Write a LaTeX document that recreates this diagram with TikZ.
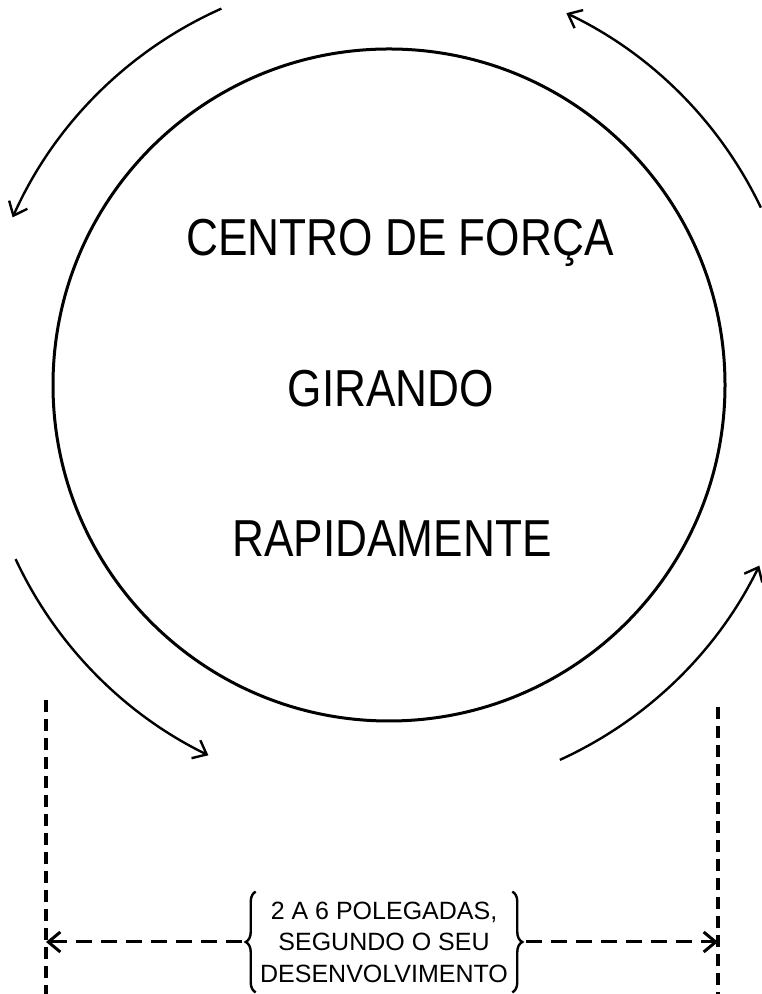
\documentclass[tikz,border=0pt]{standalone}
\usepackage{fontspec}
\setmainfont{Liberation Sans}
\usetikzlibrary{arrows.meta, decorations.pathreplacing}

\begin{document}
\begin{tikzpicture}[x=0.5pt, y=0.5pt,
  giro/.style={-{Straight Barb[length=6pt,width=10pt]}, line width=1.2pt},
  letreiro/.style={font=\fontsize{26}{30}\selectfont, xscale=0.85, anchor=base},
  tracejado/.style={line width=1.8pt, dash pattern=on 6pt off 3.5pt},
  cota/.style={-{Straight Barb[length=6pt,width=10pt]}, line width=1.5pt, dash pattern=on 8pt off 4.5pt},
  chave/.style={decorate, decoration={brace, amplitude=5pt}, line width=1.2pt}]

\useasboundingbox (0,0) rectangle (761,994);

% Centro
\coordinate (O) at (389,609);

% Circulo
\draw[line width=1.5pt] (O) circle[radius=336];

% Setas de rotacao
\draw[giro] (O) ++(114:412) arc[start angle=114, end angle=156, radius=412];
\draw[giro] (O) ++(25.5:412) arc[start angle=25.5, end angle=64.5, radius=412];
\draw[giro] (O) ++(205:412) arc[start angle=205, end angle=244, radius=412];
\draw[giro] (O) ++(-65.5:412) arc[start angle=-65.5, end angle=-26, radius=412];

% Texto do centro
\node[letreiro] (centro) at (400,738) {CENTRO DE FORÇA};
\node[letreiro] (girando) at (391,587) {GIRANDO};
\node[letreiro] (rapido) at (392,437) {RAPIDAMENTE};

% Linhas de cota
\coordinate (esqA) at (46,294);
\coordinate (esqB) at (46,0);
\coordinate (dirA) at (718,287);
\coordinate (dirB) at (718,0);
\draw[tracejado] (esqA) -- (esqB);
\draw[tracejado] (dirA) -- (dirB);

% Medida
\node[font=\fontsize{12.5}{15.75}\selectfont, align=center,
  minimum height=50pt, inner xsep=2pt] (medida) at (384,52)
  {2 A 6 POLEGADAS,\\ SEGUNDO O SEU\\ DESENVOLVIMENTO};
\draw[chave] (medida.south west) -- (medida.north west);
\draw[chave] (medida.north east) -- (medida.south east);

\coordinate (esqP) at (46,52);
\coordinate (dirP) at (718,52);
\draw[cota] ([xshift=-7pt]medida.west) -- (esqP);
\draw[cota] ([xshift=7pt]medida.east) -- (dirP);

\end{tikzpicture}
\end{document}
